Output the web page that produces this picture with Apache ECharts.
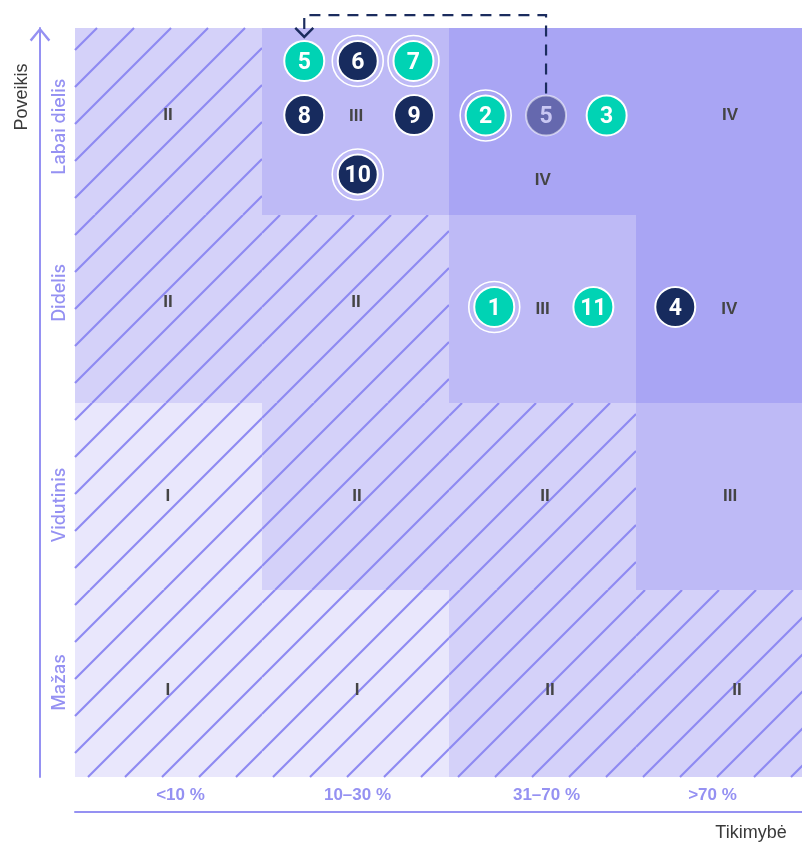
<!DOCTYPE html>
<html>
<head>
<meta charset="utf-8">
<script src="https://cdn.jsdelivr.net/npm/echarts@6/dist/echarts.min.js"></script>
<style>html,body{margin:0;padding:0;background:#fff}#chart{width:802px;height:843px}</style>
</head>
<body>
<div id="chart"></div>
<script>
// ---- data ----
const probCategories = ['<10 %', '10–30 %', '31–70 %', '>70 %'];
const impactCategories = ['Mažas', 'Vidutinis', 'Didelis', 'Labai dielis'];
// risk level per cell; rows from bottom (Mažas) to top (Labai dielis)
const riskLevels = [
  [1, 1, 2, 2],
  [1, 2, 2, 3],
  [2, 2, 3, 4],
  [2, 3, 4, 4]
];
const levelNames = ['', 'I', 'II', 'III', 'IV'];
// where each level label sits inside its cell (column / row units)
const levelLabelX = [
  [0.497, 1.508, 2.540, 3.540],
  [0.497, 1.508, 2.513, 3.503],
  [0.497, 1.503, 2.501, 3.499],
  [0.497, 1.503, 2.501, 3.503]
];
const levelLabelY = [
  [0.465, 0.465, 0.465, 0.465],
  [1.501, 1.501, 1.501, 1.501],
  [2.537, 2.537, 2.499, 2.499],
  [3.535, 3.530, 3.188, 3.535]
];
// risks
const riskIds   = ['5', '6', '7', '8', '9', '10', '2', '5', '3', '1', '11', '4'];
const riskX     = [1.226, 1.512, 1.810, 1.226, 1.813, 1.512, 2.196, 2.519, 2.843, 2.242, 2.772, 3.210];
const riskY     = [3.824, 3.824, 3.824, 3.535, 3.535, 3.218, 3.533, 3.533, 3.533, 2.510, 2.510, 2.510];
const riskKind  = ['teal', 'navy', 'teal', 'navy', 'navy', 'navy', 'teal', 'prev', 'teal', 'teal', 'teal', 'navy'];
const riskRing  = [false, true, true, false, false, true, true, false, false, true, false, false];
// movement of risk 5: from index 7 (previous) to index 0 (current), routed over the top
const moveFrom = 7;
const moveTo = 0;
const moveRouteY = 4.069;

// ---- styles ----
const levelColors = ['', '#e9e7fc', '#d4d1f9', '#bebaf6', '#a9a5f4'];
const hatchColor = '#8e8af2';
const axisColor = '#9591f2';
const kindColor = { teal: '#00d3b4', navy: '#172b5e', prev: '#6568ae' };
const kindText = { teal: '#ffffff', navy: '#ffffff', prev: '#c9c7f3' };
const kindBorder = { teal: '#ffffff', navy: '#ffffff', prev: 'rgba(255,255,255,0.55)' };
const xLabelShift = [12, 2, 4, -17];   // px, horizontal nudges of the column labels
const yLabelShift = [-1, 9, -16, 5];   // px, vertical nudges (down positive) of the row labels

const cellData = [];
const labelData = [];
for (let r = 0; r < 4; r++) {
  for (let c = 0; c < 4; c++) {
    cellData.push([c, r, riskLevels[r][c]]);
    labelData.push([levelLabelX[r][c], levelLabelY[r][c], riskLevels[r][c]]);
  }
}
const markerData = riskIds.map((id, i) => ({
  value: [riskX[i], riskY[i]],
  name: id,
  itemStyle: { color: kindColor[riskKind[i]], borderColor: kindBorder[riskKind[i]] },
  label: { color: kindText[riskKind[i]] }
}));
const ringData = [];
riskIds.forEach((id, i) => { if (riskRing[i]) ringData.push([riskX[i], riskY[i]]); });

const xRich = {}, yRich = {};
xLabelShift.forEach((s, i) => {
  xRich['x' + i] = { color: axisColor, fontSize: 17, fontWeight: 'bold', fontFamily: 'Liberation Sans',
    padding: s >= 0 ? [0, 0, 0, 2 * s] : [0, -2 * s, 0, 0] };
});
yLabelShift.forEach((s, i) => {
  yRich['y' + i] = { color: axisColor, fontSize: 18, fontWeight: 500, fontFamily: 'Inter',
    padding: s >= 0 ? [0, 2 * s, 0, 0] : [0, 0, 0, -2 * s] };
});

const chart = echarts.init(document.getElementById('chart'), null, { renderer: 'canvas' });

const chevron = 'path://M0,12 L10,0 L20,12 L18.2,13.6 L10,3.4 L1.8,13.6 Z';

chart.setOption({
  animation: false,
  backgroundColor: '#ffffff',
  grid: { left: 75, top: 28, width: 748, height: 749, outerBoundsMode: 'none', containLabel: false },
  xAxis: [
    { type: 'value', min: 0, max: 4, show: false },
    {
      type: 'category', data: probCategories, position: 'bottom', offset: 35,
      boundaryGap: true,
      axisLine: { show: true, lineStyle: { color: axisColor, width: 2 }, symbol: ['none', chevron], symbolSize: [20, 13], symbolOffset: [0, -6] },
      axisTick: { show: false },
      splitLine: { show: false },
      axisLabel: { inside: true, margin: 8, formatter: (v, i) => '{x' + i + '|' + v + '}', rich: xRich }
    }
  ],
  yAxis: [
    { type: 'value', min: 0, max: 4, show: false },
    {
      type: 'category', data: impactCategories, position: 'left', offset: 35,
      boundaryGap: true,
      axisLine: { show: true, lineStyle: { color: axisColor, width: 2 }, symbol: ['none', chevron], symbolSize: [21, 14], symbolOffset: [0, -6.5] },
      axisTick: { show: false },
      splitLine: { show: false },
      axisLabel: { inside: true, rotate: 90, margin: 11, formatter: (v, i) => '{y' + i + '|' + v + '}', rich: yRich }
    }
  ],
  graphic: [
    { type: 'text', x: 22, y: 97, rotation: Math.PI / 2, style: { text: 'Poveikis', align: 'center', verticalAlign: 'middle', fontSize: 18, fill: '#3a3a3a', fontFamily: 'Liberation Sans' } },
    { type: 'text', x: 751, y: 833, style: { text: 'Tikimybė', align: 'center', verticalAlign: 'middle', fontSize: 18, fill: '#3a3a3a', fontFamily: 'Liberation Sans' } }
  ],
  series: [
    {
      type: 'custom', name: 'cells', xAxisIndex: 0, yAxisIndex: 0, clip: false, z: 1, silent: true,
      data: cellData,
      renderItem: function (params, api) {
        const c = api.value(0), r = api.value(1), lvl = api.value(2);
        const p0 = api.coord([c, r + 1]).map(Math.round);
        const p1 = api.coord([c + 1, r]).map(Math.round);
        const origin = api.coord([0, 4]);
        const children = [{
          type: 'rect',
          shape: { x: p0[0], y: p0[1], width: p1[0] - p0[0], height: p1[1] - p0[1] },
          style: { fill: levelColors[lvl] }
        }];
        if (lvl <= 2) {
          const step = 37;
          const base = origin[0] + origin[1] + 22;
          const x0 = p0[0], x1 = p1[0], y0 = p0[1], y1 = p1[1];
          const kMin = x0 + y0, kMax = x1 + y1;
          let n = Math.ceil((kMin - base) / step);
          for (let k = base + n * step; k <= kMax; k += step) {
            const xs = Math.max(x0, k - y1);
            const xe = Math.min(x1, k - y0);
            if (xe - xs > 0.5) {
              children.push({
                type: 'line',
                shape: { x1: xs, y1: k - xs, x2: xe, y2: k - xe },
                style: { stroke: hatchColor, lineWidth: 2.1 }
              });
            }
          }
        }
        return { type: 'group', children: children };
      }
    },
    {
      type: 'custom', name: 'levels', xAxisIndex: 0, yAxisIndex: 0, clip: false, z: 2, silent: true,
      data: labelData,
      renderItem: function (params, api) {
        const p = api.coord([api.value(0), api.value(1)]);
        return {
          type: 'text', x: p[0], y: p[1],
          style: { text: levelNames[api.value(2)], align: 'center', verticalAlign: 'middle', fontSize: 17, fontWeight: 'bold', fill: '#444444', fontFamily: 'Liberation Sans' }
        };
      }
    },
    {
      type: 'custom', name: 'move', xAxisIndex: 0, yAxisIndex: 0, clip: false, z: 3, silent: true,
      data: [[riskX[moveFrom], riskY[moveFrom], riskX[moveTo], riskY[moveTo], moveRouteY]],
      renderItem: function (params, api) {
        const a = api.coord([api.value(0), api.value(1)]);
        const b = api.coord([api.value(2), api.value(3)]);
        const t = api.coord([0, api.value(4)])[1];
        const tipY = b[1] - 24;
        const col = '#1b2c5e';
        return {
          type: 'group', children: [
            { type: 'polyline', shape: { points: [[a[0], a[1] - 22], [a[0], t], [b[0], t], [b[0], tipY - 2]] },
              style: { stroke: col, lineWidth: 2.2, lineDash: [11, 8], fill: null } },
            { type: 'polyline', shape: { points: [[b[0] - 9, tipY - 9], [b[0], tipY], [b[0] + 9, tipY - 9]] },
              style: { stroke: col, lineWidth: 2.4, fill: null } }
          ]
        };
      }
    },
    {
      type: 'scatter', name: 'rings', xAxisIndex: 0, yAxisIndex: 0, z: 4, silent: true,
      symbol: 'circle', symbolSize: 51,
      itemStyle: { color: 'rgba(0,0,0,0)', borderColor: '#ffffff', borderWidth: 1.6, opacity: 1 },
      data: ringData
    },
    {
      type: 'scatter', name: 'risks', xAxisIndex: 0, yAxisIndex: 0, z: 5, silent: true,
      symbol: 'circle', symbolSize: 40,
      itemStyle: { borderWidth: 2, opacity: 1 },
      label: { show: true, position: 'inside', offset: [0, 2], formatter: p => p.name, fontSize: 23, fontWeight: 'bold', fontFamily: 'Roboto' },
      data: markerData
    }
  ]
});
</script>
</body>
</html>
